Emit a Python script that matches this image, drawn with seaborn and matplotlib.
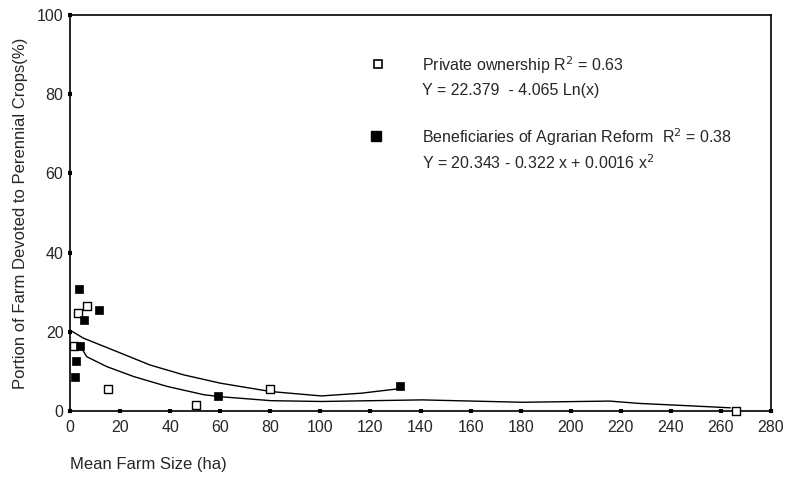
import numpy as np
import pandas as pd
import seaborn as sns
import matplotlib.pyplot as plt

sns.set_style("white")
plt.rcParams['font.family'] = ['Liberation Sans', 'DejaVu Sans']

# Data
private_x = [1.6, 3.3, 6.8, 15.0, 50.5, 80.0, 266.0]
private_y = [16.3, 24.7, 26.4, 5.6, 1.6, 5.5, 0.0]

reform_x = [2.0, 2.4, 3.7, 4.0, 5.4, 11.5, 59.3, 132.0]
reform_y = [8.7, 12.7, 30.8, 16.3, 22.9, 25.6, 3.8, 6.2]

# trend line for private ownership (log fit)
private_fit_x = [4.0, 6.7, 14.7, 25.4, 38.8, 53.5, 60.2, 80.3, 100.4, 140.6, 180.7, 215.5, 227.6, 247.7, 263.7]
private_fit_y = [16.5, 13.7, 11.2, 8.7, 6.2, 4.1, 3.6, 2.6, 2.4, 2.8, 2.2, 2.5, 1.9, 1.3, 0.8]

# trend line for agrarian reform (quadratic fit)
reform_fit_x = [0.3, 5.3, 18.7, 32.0, 45.5, 60.2, 80.3, 100.4, 116.5, 132.5]
reform_fit_y = [20.3, 18.4, 15.0, 11.6, 9.1, 7.0, 4.9, 3.8, 4.5, 5.7]

df_pts = pd.concat([
    pd.DataFrame({"size": private_x, "share": private_y, "group": "private"}),
    pd.DataFrame({"size": reform_x, "share": reform_y, "group": "reform"}),
])

fig, ax = plt.subplots(figsize=(7.9, 4.79), dpi=100)
fig.subplots_adjust(left=0.0886, right=0.976, bottom=0.142, top=0.969)

sns.lineplot(x=private_fit_x, y=private_fit_y, sort=False, estimator=None,
             color="black", linewidth=1.0, ax=ax)
sns.lineplot(x=reform_fit_x, y=reform_fit_y, sort=False, estimator=None,
             color="black", linewidth=1.0, ax=ax)

priv = df_pts[df_pts["group"] == "private"]
refo = df_pts[df_pts["group"] == "reform"]
sns.scatterplot(data=priv, x="size", y="share", marker="s", s=26,
                facecolor="white", edgecolor="black", linewidth=1.0,
                ax=ax, zorder=3, clip_on=False)
sns.scatterplot(data=refo, x="size", y="share", marker="s", s=34,
                color="black", edgecolor="black", linewidth=0.5,
                ax=ax, zorder=4, clip_on=False)

ax.set_xlim(0, 280)
ax.set_ylim(0, 100)
ax.set_xticks(np.arange(0, 281, 20))
ax.set_yticks(np.arange(0, 101, 20))
ax.tick_params(axis="both", bottom=True, left=True, direction="inout",
               length=3.5, width=3, labelsize=11.5, color="black", pad=3)
ax.tick_params(axis="x", pad=5)
for sp in ax.spines.values():
    sp.set_color("black")
    sp.set_linewidth(1.2)

ax.set_xlabel("")
ax.set_ylabel("Portion of Farm Devoted to Perennial Crops(%)", fontsize=12, labelpad=6)
fig.text(70 / 790, 1 - 465 / 479, "Mean Farm Size (ha)", fontsize=12,
         ha="left", va="center")

# legend drawn as annotation
ax.plot([0.44], [0.875], transform=ax.transAxes, marker="s", ms=5.5,
        mfc="white", mec="black", mew=1.2, clip_on=False)
ax.plot([0.437], [0.694], transform=ax.transAxes, marker="s", ms=6.5,
        mfc="black", mec="black", clip_on=False)
ax.text(0.502, 0.873, "Private ownership R$^2$ = 0.63", transform=ax.transAxes,
        fontsize=11.5, va="center")
ax.text(0.502, 0.81, "Y = 22.379  - 4.065 Ln(x)", transform=ax.transAxes,
        fontsize=11.5, va="center")
ax.text(0.502, 0.691, "Beneficiaries of Agrarian Reform  R$^2$ = 0.38",
        transform=ax.transAxes, fontsize=11.5, va="center")
ax.text(0.502, 0.628, "Y = 20.343 - 0.322 x + 0.0016 x$^2$",
        transform=ax.transAxes, fontsize=11.5, va="center")

fig.savefig("out.png", dpi=100)
